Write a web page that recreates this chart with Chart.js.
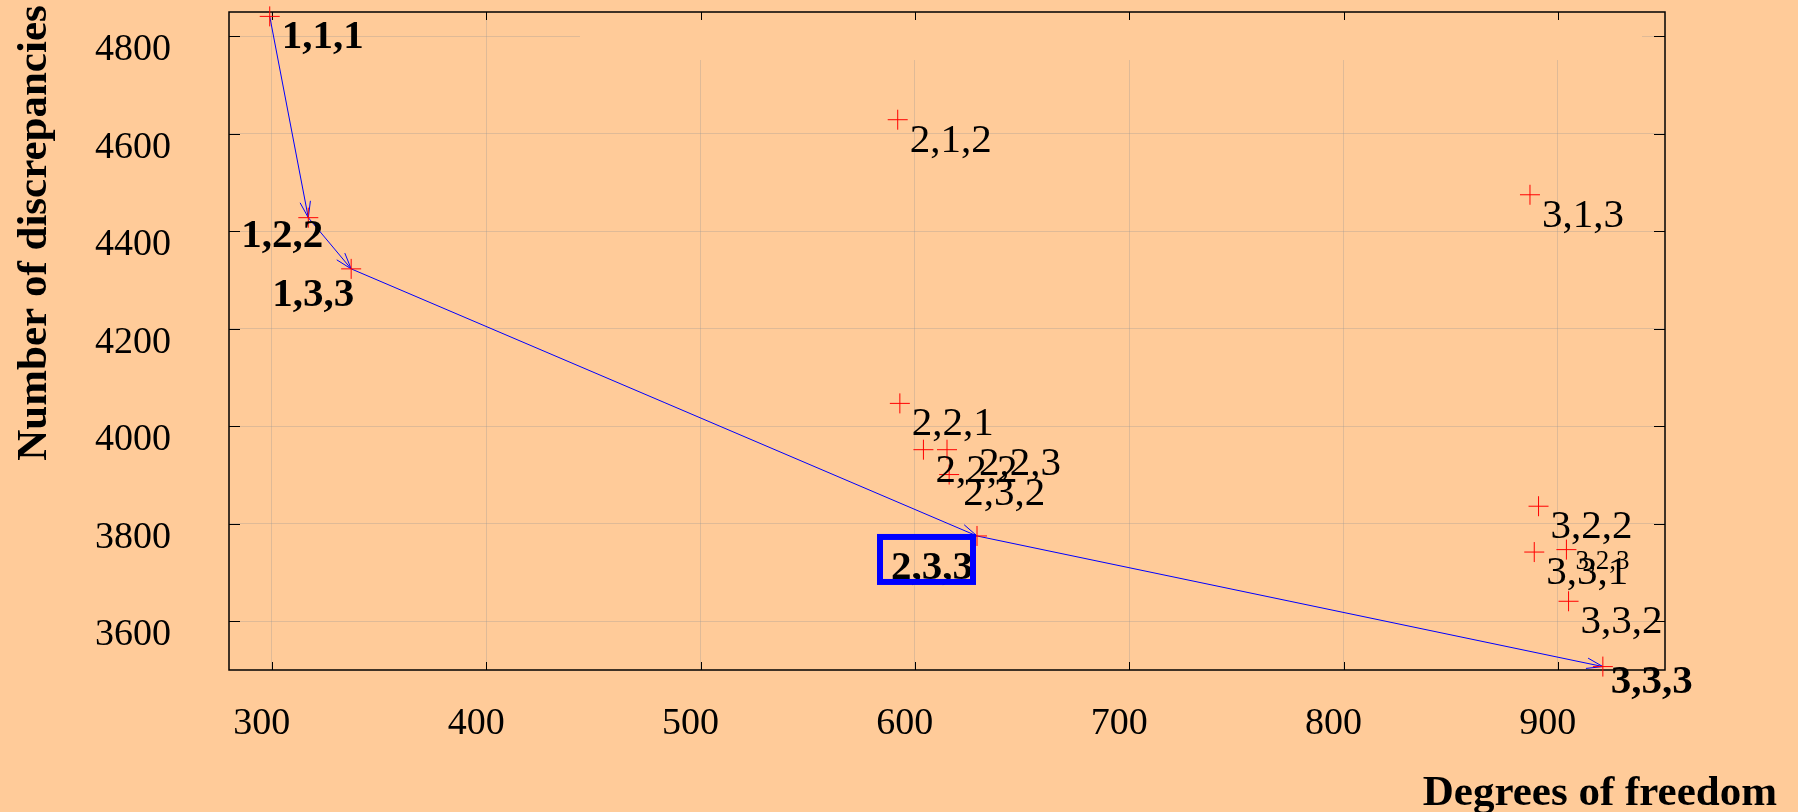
<!DOCTYPE html>
<html>
<head>
<meta charset="utf-8">
<title>Degrees of freedom vs discrepancies</title>
<script src="https://cdn.jsdelivr.net/npm/chart.js"></script>
<style>
    html, body { margin: 0; padding: 0; background: #ffcb99; }
    canvas { display: block; }
</style>
</head>
<body>
<canvas id="dofChart" width="1798" height="812"></canvas>
<script>
// model labels and their measured values
const pointLabels = ['1,1,1', '1,2,2', '1,3,3', '2,1,2', '2,2,1', '2,2,2', '2,2,3', '2,3,2',
                     '2,3,3', '3,1,3', '3,2,2', '3,2,3', '3,3,1', '3,3,2', '3,3,3'];
const degreesOfFreedom = [299, 317, 337, 592, 593, 604, 615, 616, 629, 887, 891, 904, 889, 905, 921];
const discrepancies = [4841, 4428, 4323, 4629, 4047, 3952, 3952, 3901, 3775, 4475, 3836, 3747, 3742, 3641, 3507];

// the path followed by the arrows, and the chosen model
const pathLabels = ['1,1,1', '1,2,2', '1,3,3', '2,3,3', '3,3,3'];
const chosenLabel = '2,3,3';

const xTickValues = [300, 400, 500, 600, 700, 800, 900];
const yTickValues = [3600, 3800, 4000, 4200, 4400, 4600, 4800];

const bg = '#ffcb99';
const serif = "'Liberation Serif', 'Times New Roman', serif";

// label placement relative to the point: [dx, dy to baseline, font size]
const labelPlacement = {
    '1,2,2': [-67, 29],
    '1,3,3': [-79, 37],
    '2,3,3': [-86, 43],
    '3,3,3': [8, 26],
    '2,2,3': [32, 25],
    '2,3,2': [14, 30],
    '3,2,3': [9, 19, 27]
};

const scatterData = pointLabels.map((l, i) => ({ x: degreesOfFreedom[i], y: discrepancies[i] }));
const pathData = pathLabels.map(l => {
    const i = pointLabels.indexOf(l);
    return { x: degreesOfFreedom[i], y: discrepancies[i] };
});

const paperBackground = {
    id: 'paperBackground',
    beforeDraw(chart) {
        const ctx = chart.ctx;
        ctx.save();
        ctx.fillStyle = bg;
        ctx.fillRect(0, 0, chart.width, chart.height);
        ctx.restore();
    }
};

// frame, inward ticks on all four sides, and the empty key box at the top
const frameAndTicks = {
    id: 'frameAndTicks',
    beforeDatasetsDraw(chart) {
        const { ctx, chartArea: a, scales: { x, y } } = chart;
        ctx.save();
        ctx.fillStyle = bg;
        ctx.fillRect(a.left + 351, a.top + 1, (a.right - 23) - (a.left + 351), 47);

        ctx.strokeStyle = '#000';
        ctx.lineWidth = 1;
        ctx.beginPath();
        x.ticks.forEach(t => {
            const px = Math.round(x.getPixelForValue(t.value)) + 0.5;
            ctx.moveTo(px, a.bottom); ctx.lineTo(px, a.bottom - 8);
            ctx.moveTo(px, a.top); ctx.lineTo(px, a.top + 8);
        });
        y.ticks.forEach(t => {
            const py = Math.round(y.getPixelForValue(t.value)) + 0.5;
            ctx.moveTo(a.left, py); ctx.lineTo(a.left + 11, py);
            ctx.moveTo(a.right, py); ctx.lineTo(a.right - 11, py);
        });
        ctx.stroke();

        ctx.lineWidth = 1.5;
        ctx.strokeRect(a.left, a.top, a.right - a.left, a.bottom - a.top);
        ctx.restore();
    }
};

// open arrow heads at the end of every path segment
const arrowHeads = {
    id: 'arrowHeads',
    afterDatasetDraw(chart, args) {
        if (args.index !== 1) return;
        const pts = args.meta.data;
        const ctx = chart.ctx;
        const len = 17, spread = 18 * Math.PI / 180;
        ctx.save();
        ctx.strokeStyle = '#0000ff';
        ctx.lineWidth = 1;
        ctx.beginPath();
        for (let i = 1; i < pts.length; i++) {
            const a = Math.atan2(pts[i].y - pts[i - 1].y, pts[i].x - pts[i - 1].x);
            [a + spread, a - spread].forEach(b => {
                ctx.moveTo(pts[i].x, pts[i].y);
                ctx.lineTo(pts[i].x - len * Math.cos(b), pts[i].y - len * Math.sin(b));
            });
        }
        ctx.stroke();
        ctx.restore();
    }
};

const modelLabels = {
    id: 'modelLabels',
    afterDraw(chart) {
        const ctx = chart.ctx;
        const pts = chart.getDatasetMeta(0).data;
        ctx.save();
        ctx.fillStyle = '#000';
        ctx.textAlign = 'left';
        ctx.textBaseline = 'alphabetic';
        pointLabels.forEach((label, i) => {
            const [dx, dy, size] = labelPlacement[label] || [12, 32];
            const bold = pathLabels.includes(label);
            ctx.font = (bold ? 'bold ' : '') + (size || 41) + 'px ' + serif;
            const tx = pts[i].x + dx, ty = pts[i].y + dy;
            ctx.fillText(label, tx, ty);
            if (label === chosenLabel) {
                const w = ctx.measureText(label).width;
                ctx.strokeStyle = '#0000ff';
                ctx.lineWidth = 6;
                ctx.strokeRect(tx - 11, ty - 42, w + 11, 45);
            }
        });

        ctx.font = 'bold 43px ' + serif;
        ctx.textAlign = 'right';
        ctx.fillText('Degrees of freedom', 1777, 805);

        ctx.translate(46, 233);
        ctx.rotate(-Math.PI / 2);
        ctx.textAlign = 'center';
        ctx.fillText('Number of discrepancies', 0, 0);
        ctx.restore();
    }
};

const tickFont = { family: serif, size: 38 };
const gridColor = 'rgba(150,150,150,0.3)';

new Chart(document.getElementById('dofChart'), {
    type: 'scatter',
    data: {
        datasets: [
            {
                label: 'models',
                data: scatterData,
                pointStyle: 'cross',
                pointRadius: 10,
                pointHoverRadius: 10,
                borderColor: '#ff0000',
                borderWidth: 1,
                showLine: false,
                clip: false
            },
            {
                label: 'path',
                data: pathData,
                showLine: true,
                borderColor: '#0000ff',
                borderWidth: 1,
                pointRadius: 0,
                tension: 0,
                clip: false
            }
        ]
    },
    options: {
        responsive: false,
        animation: false,
        events: [],
        layout: { padding: { top: 12, right: 133, left: 0, bottom: 0 } },
        plugins: {
            legend: { display: false },
            tooltip: { enabled: false }
        },
        scales: {
            x: {
                type: 'linear',
                min: 280,
                max: 950,
                afterBuildTicks: s => { s.ticks = xTickValues.map(v => ({ value: v })); },
                afterFit: s => { s.height = 142; s.paddingLeft = 0; s.paddingRight = 0; },
                grid: { color: gridColor, lineWidth: 1, drawTicks: false },
                border: { display: false },
                ticks: {
                    font: tickFont,
                    color: '#000',
                    padding: 31,
                    labelOffset: -10,
                    maxRotation: 0,
                    autoSkip: false,
                    callback: v => String(v)
                }
            },
            y: {
                type: 'linear',
                min: 3500,
                max: 4850,
                afterBuildTicks: s => { s.ticks = yTickValues.map(v => ({ value: v })); },
                afterFit: s => { s.width = 229; s.paddingTop = 0; s.paddingBottom = 0; },
                grid: { color: gridColor, lineWidth: 1, drawTicks: false },
                border: { display: false },
                ticks: {
                    font: tickFont,
                    color: '#000',
                    padding: 58,
                    labelOffset: 14,
                    autoSkip: false,
                    callback: v => String(v)
                }
            }
        }
    },
    plugins: [paperBackground, frameAndTicks, arrowHeads, modelLabels]
});
</script>
</body>
</html>
